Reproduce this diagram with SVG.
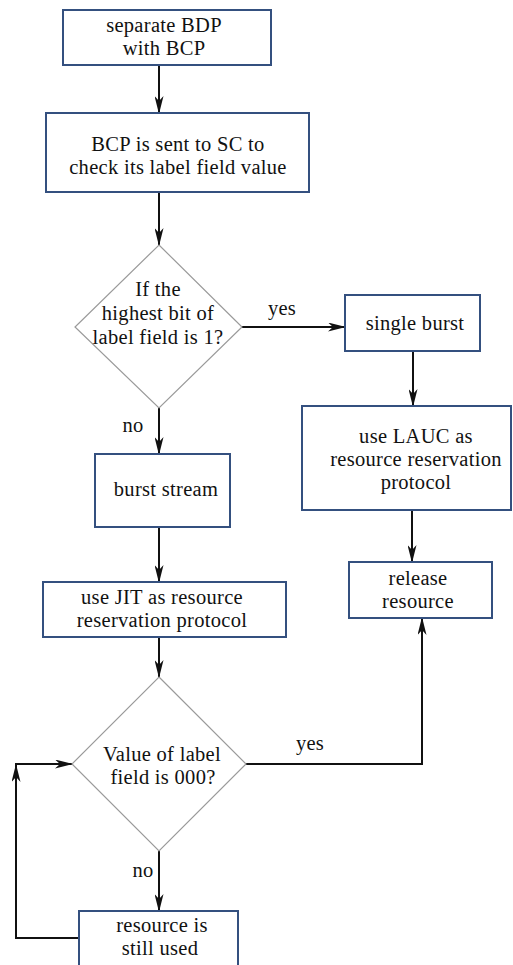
<svg xmlns="http://www.w3.org/2000/svg" width="513" height="965" viewBox="0 0 513 965">
<style>
  .box { fill: #ffffff; stroke: #34507f; stroke-width: 2; }
  .dia { fill: #ffffff; stroke: #9a9a9a; stroke-width: 1.2; }
  .t { font-family: "Liberation Serif", "DejaVu Serif", serif; font-size: 20.5px; letter-spacing: 0.3px; fill: #111111; text-anchor: middle; }
  .ca { fill: none; stroke: #111111; stroke-width: 2; marker-end: url(#arr); }
</style>
<defs>
  <marker id="arr" markerUnits="userSpaceOnUse" markerWidth="18" markerHeight="9" refX="17" refY="4.5" orient="auto">
    <path d="M0,0 L18,4.5 L0,9 L5,4.5 z" fill="#111111"/>
  </marker>
</defs>
<rect width="513" height="965" fill="#ffffff"/>

<g id="connectors">
  <line class="ca" x1="159" y1="65" x2="159" y2="113"/>
  <line class="ca" x1="159" y1="192" x2="159" y2="245"/>
  <line class="ca" x1="242" y1="327" x2="345" y2="327"/>
  <line class="ca" x1="413" y1="351" x2="413" y2="406"/>
  <line class="ca" x1="412" y1="510" x2="412" y2="562"/>
  <line class="ca" x1="159" y1="408" x2="159" y2="454"/>
  <line class="ca" x1="159" y1="527" x2="159" y2="582"/>
  <line class="ca" x1="159" y1="637" x2="159" y2="677"/>
  <polyline class="ca" points="246,764 422,764 422,618"/>
  <line class="ca" x1="159" y1="851" x2="159" y2="911"/>
  <polyline class="ca" points="79,938 16,938 16,765"/>
  <line class="ca" x1="15" y1="764" x2="72" y2="764"/>
  <text class="t" x="282" y="315">yes</text>
  <text class="t" x="133" y="432">no</text>
  <text class="t" x="310" y="750">yes</text>
  <text class="t" x="143" y="877">no</text>
</g>

<g id="n1">
  <rect class="box" x="63" y="10" width="208" height="55"/>
  <text class="t" x="164" y="32">separate BDP</text>
  <text class="t" x="164" y="55">with BCP</text>
</g>
<g id="n2">
  <rect class="box" x="46" y="113" width="263" height="79"/>
  <text class="t" x="178" y="151">BCP is sent to SC to</text>
  <text class="t" x="178" y="174">check its label field value</text>
</g>
<g id="d1">
  <polygon class="dia" points="159,245 242,327 159,408 75,327"/>
  <text class="t" x="158" y="296">If the</text>
  <text class="t" x="158" y="320">highest bit of</text>
  <text class="t" x="158" y="344">label field is 1?</text>
</g>
<g id="n3">
  <rect class="box" x="345" y="295" width="135" height="56"/>
  <text class="t" x="415" y="330">single burst</text>
</g>
<g id="n4">
  <rect class="box" x="302" y="406" width="209" height="104"/>
  <text class="t" x="416" y="443">use LAUC as</text>
  <text class="t" x="416" y="466">resource reservation</text>
  <text class="t" x="416" y="489">protocol</text>
</g>
<g id="n5">
  <rect class="box" x="349" y="562" width="143" height="56"/>
  <text class="t" x="418" y="585">release</text>
  <text class="t" x="418" y="608">resource</text>
</g>
<g id="n6">
  <rect class="box" x="95" y="454" width="135" height="73"/>
  <text class="t" x="166" y="496">burst stream</text>
</g>
<g id="n7">
  <rect class="box" x="43" y="582" width="243" height="55"/>
  <text class="t" x="162" y="604">use JIT as resource</text>
  <text class="t" x="162" y="627">reservation protocol</text>
</g>
<g id="d2">
  <polygon class="dia" points="159,677 246,764 159,851 72,764"/>
  <text class="t" x="162" y="761">Value of label</text>
  <text class="t" x="163" y="784">field is 000?</text>
</g>
<g id="n8">
  <rect class="box" x="79" y="911" width="159" height="60"/>
  <text class="t" x="162" y="932">resource is</text>
  <text class="t" x="160" y="955">still used</text>
</g>
</svg>
